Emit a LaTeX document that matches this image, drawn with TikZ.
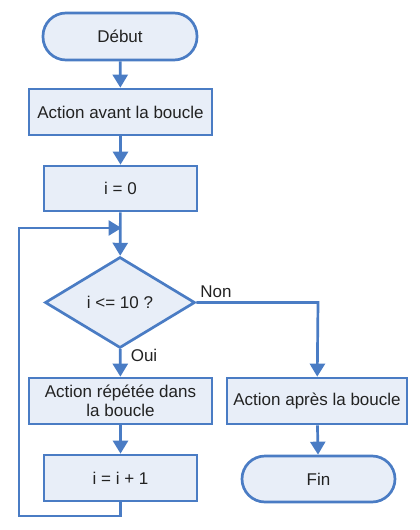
\documentclass[tikz,border=0pt]{standalone}
\usepackage{fontspec}
\setmainfont{Liberation Sans}
\usetikzlibrary{arrows.meta,shapes.geometric}
\definecolor{bord}{HTML}{4A7CC4}
\definecolor{fond}{HTML}{E8EEF8}
\definecolor{texte}{HTML}{222222}
\tikzset{
  every node/.style={font=\fontsize{17}{19.5}\selectfont, text=texte},
  boite/.style={draw=bord, fill=fond, line width=2.7pt, rectangle, inner sep=0pt, align=center},
  term/.style={boite, rounded corners=23pt},
  losange/.style={draw=bord, fill=fond, line width=2.7pt, diamond, aspect=1.65, minimum width=150pt, minimum height=91pt, inner sep=0pt},
  fleche/.style={draw=bord, line width=2.7pt, -{Triangle[width=15pt,length=13pt]}},
  ligne/.style={draw=bord, line width=2.7pt},
}
\begin{document}
\begin{tikzpicture}[x=1pt,y=-1pt]
\useasboundingbox (0,0) rectangle (420,530);
\node[term, minimum width=154pt, minimum height=47pt] (debut) at (120,36.5) {Début};
\node[boite, minimum width=183pt, minimum height=46pt] (avant) at (120.5,112) {Action avant la boucle};
\node[boite, minimum width=153pt, minimum height=45pt] (init) at (120.5,188.5) {i = 0};
\coordinate (join) at (120.5,228);
\node[losange] (cond) at (120,302.5) {i <= 10 ?};
\node[boite, minimum width=183pt, minimum height=46pt] (rep) at (120.5,401) {Action répétée dans\\la boucle};
\node[boite, minimum width=153pt, minimum height=46pt] (incr) at (120.5,478) {i = i + 1};
\node[boite, minimum width=180pt, minimum height=46pt] (apres) at (317,401) {Action après la boucle};
\node[term, minimum width=153pt, minimum height=46pt] (fin) at (318.5,479) {Fin};
\coordinate (bas) at (120.5,516);
\coordinate (gauche) at (19,516);
\coordinate (haut) at (19,228);
\coordinate (droite) at (318,302.5);
\node (non) at (216,292) {Non};
\node (oui) at (144,355) {Oui};

\draw[fleche] (debut) -- (avant);
\draw[fleche] (avant) -- (init);
\draw[fleche] (init) -- (cond);
\draw[fleche] (cond) -- (rep);
\draw[fleche] (rep) -- (incr);
\draw[fleche] (cond.east) -- (droite) -- (apres);
\draw[fleche] (apres) -- (fin);
\draw[ligne, line join=miter] (incr.south) -- (bas) -- (gauche) -- (haut) -- ([xshift=-1pt]join);
\draw[fleche] (haut) -- ([xshift=1pt]join);
\end{tikzpicture}
\end{document}
